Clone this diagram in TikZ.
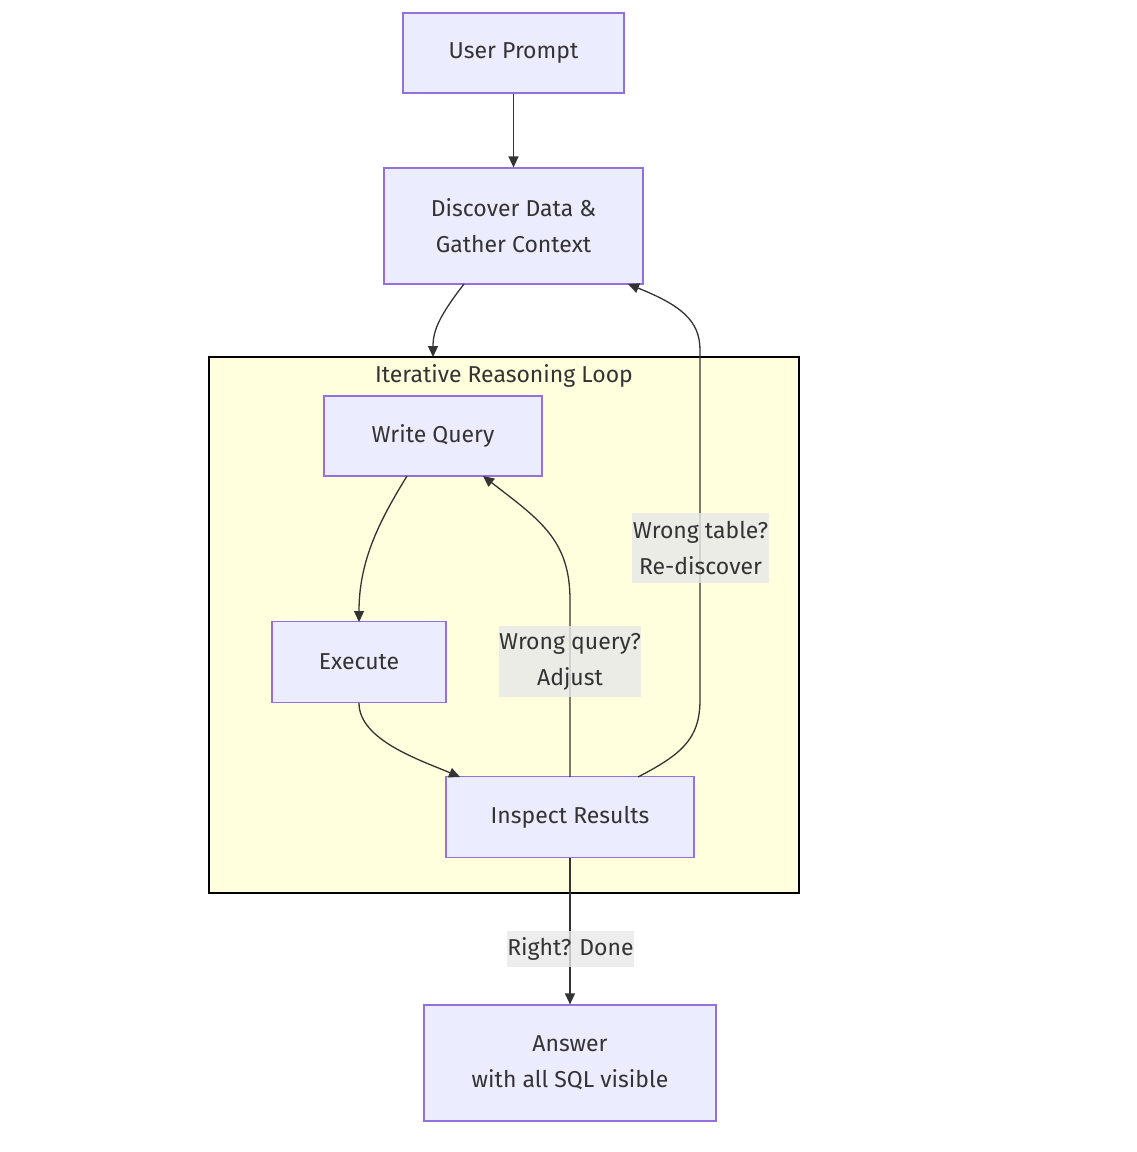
\documentclass[tikz,border=0pt]{standalone}
\usepackage{fontspec}
\setmainfont{Fira Sans}
\usetikzlibrary{arrows.meta}
\definecolor{nfill}{HTML}{ECECFF}
\definecolor{nline}{HTML}{9370DB}
\definecolor{sfill}{HTML}{FFFFDE}
\definecolor{txt}{HTML}{333333}
\definecolor{lbl}{HTML}{E8E8E8}
\begin{document}
\begin{tikzpicture}[x=1pt,y=-1pt,
  box/.style={draw=nline,fill=nfill,line width=1.2pt,text=txt,align=center,inner sep=0pt,font=\fontsize{23}{36}\selectfont},
  lab/.style={fill=lbl,fill opacity=0.8,text opacity=1,text=txt,align=center,inner sep=0pt,font=\fontsize{23}{36}\selectfont},
  edge/.style={draw=txt,line width=1.3pt,-{Triangle[length=11pt,width=10pt]}},
  ]
\useasboundingbox (0,0) rectangle (1136,1152);
% subgraph
\node[draw=black,fill=sfill,line width=1.2pt,minimum width=590pt,minimum height=536pt,inner sep=0pt] (loop) at (504,625) {};
\node[text=txt,font=\fontsize{23}{36}\selectfont] (looptitle) at (504,376) {Iterative Reasoning Loop};
% nodes
\node[box,minimum width=221pt,minimum height=80pt] (up) at (513.5,53) {User Prompt};
\node[box,minimum width=259pt,minimum height=116pt] (dd) at (513.5,226) {Discover Data \&\\Gather Context};
\node[box,minimum width=218pt,minimum height=80pt] (wq) at (433,436) {Write Query};
\node[box,minimum width=174pt,minimum height=81pt] (ex) at (359,662) {Execute};
\node[box,minimum width=248pt,minimum height=81pt] (ir) at (570,817) {Inspect Results};
\node[box,minimum width=292pt,minimum height=116pt] (ans) at (570,1063) {Answer\\with all SQL visible};
% coordinates
\coordinate (lt) at (433,357);
% edges
\draw[edge] (up.south) -- (dd.north);
\draw[edge] (464,284) .. controls (440,315) and (433,330) .. (lt);
\draw[edge] (407,476) .. controls (380,520) and (359,560) .. (359,622);
\draw[edge] (359,703) .. controls (359,740) and (420,760) .. (460,777);
\draw[edge] (570,777) -- (570,600) .. controls (570,540) and (540,520) .. (483,476);
\draw[edge] (638,777) .. controls (680,755) and (700,740) .. (700,700) -- (700,350) .. controls (700,320) and (680,305) .. (628,284);
\draw[edge] (ir.south) -- (ans.north);
% labels
\node[lab,minimum width=137pt,minimum height=70pt] (l1) at (700.5,548) {Wrong table?\\Re-discover};
\node[lab,minimum width=142pt,minimum height=71pt] (l2) at (570,661.5) {Wrong query?\\Adjust};
\node[lab,minimum width=125pt,minimum height=36pt] (l3) at (570.5,949) {Right? Done};
\end{tikzpicture}
\end{document}
